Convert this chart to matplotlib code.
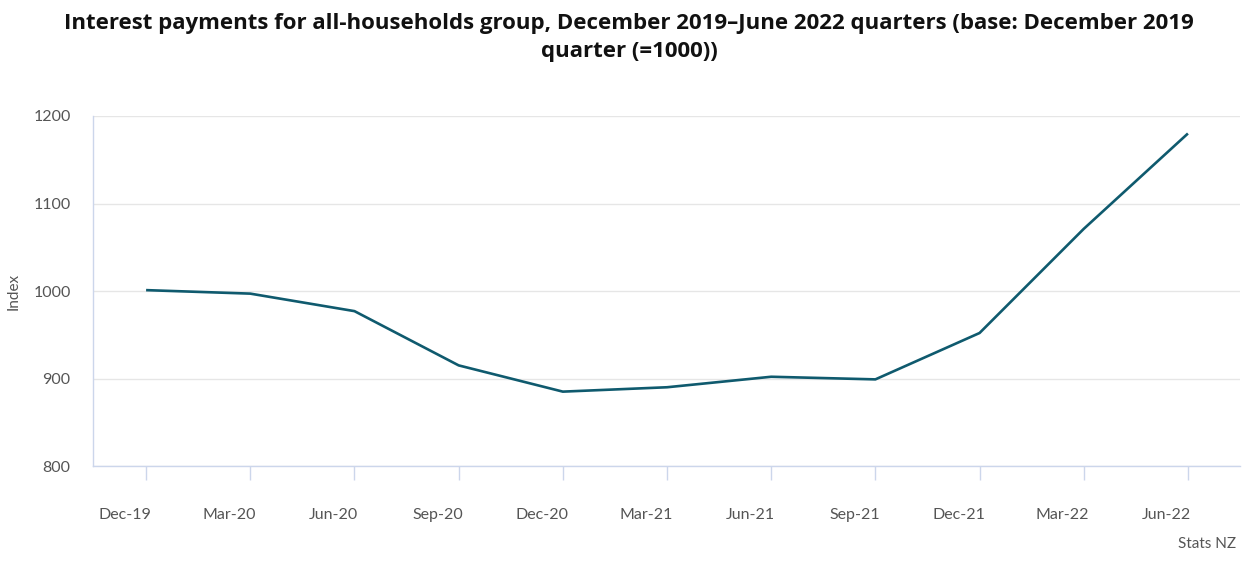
# interest payments index line chart stats nz style
# comments are lowercase no punctuation

import matplotlib
matplotlib.use("Agg")
import matplotlib.pyplot as plt
import matplotlib.transforms as mtransforms

quarters = ["Dec-19", "Mar-20", "Jun-20", "Sep-20", "Dec-20", "Mar-21",
            "Jun-21", "Sep-21", "Dec-21", "Mar-22", "Jun-22"]
index_values = [1001, 997, 977, 915, 885, 890, 902, 899, 952, 1071, 1180]
y_ticks = [800, 900, 1000, 1100, 1200]

TITLE = ("Interest payments for all-households group, December 2019\u2013June 2022 "
         "quarters (base: December 2019\nquarter (=1000))")

LINE_COLOR = "#0f5a6e"
AXIS_COLOR = "#ccd6eb"
GRID_COLOR = "#e6e6e6"
TEXT_COLOR = "#555555"


def main():
    plt.rcParams["font.family"] = ["Lato", "DejaVu Sans"]

    fig = plt.figure(figsize=(12.58, 5.62), dpi=100)
    ax = fig.add_axes([0.0739, 0.1708, 0.9118, 0.6228])

    x = list(range(len(quarters)))
    ax.plot(x, index_values, color=LINE_COLOR, linewidth=1.9,
            solid_joinstyle="round", solid_capstyle="butt", zorder=3)

    ax.set_xlim(-0.51, 10.5)
    ax.set_ylim(800, 1200)
    ax.set_yticks(y_ticks)
    ax.set_xticks(x)
    ax.set_xticklabels(quarters)

    # grid only horizontal
    ax.grid(axis="y", color=GRID_COLOR, linewidth=1.0, zorder=0)
    ax.set_axisbelow(True)

    for side in ["top", "right"]:
        ax.spines[side].set_visible(False)
    for side in ["left", "bottom"]:
        ax.spines[side].set_color(AXIS_COLOR)
        ax.spines[side].set_linewidth(1.0)

    ax.tick_params(axis="y", length=0, pad=16, labelsize=11.5, labelcolor=TEXT_COLOR)
    ax.tick_params(axis="x", length=10, width=1.0, color=AXIS_COLOR, pad=20,
                   labelsize=11.5, labelcolor=TEXT_COLOR)

    # labels sit slightly left of their ticks like the source
    offset = mtransforms.ScaledTranslation(-21 / 100, 0, fig.dpi_scale_trans)
    for lab in ax.get_xticklabels():
        lab.set_transform(lab.get_transform() + offset)

    ax.set_ylabel("Index", fontsize=11, color=TEXT_COLOR)
    ax.yaxis.set_label_coords(-0.0635, 0.5)

    fig.text(0.5, 0.976, TITLE, ha="center", va="top", fontsize=16,
             fontweight="bold", color="#111111", linespacing=1.38,
             family=["Open Sans", "DejaVu Sans"])
    fig.text(0.983, 0.02, "Stats NZ", ha="right", va="bottom", fontsize=11,
             color=TEXT_COLOR)

    fig.savefig("out.png", dpi=100, facecolor="white")
    plt.close(fig)


if __name__ == "__main__":
    main()
